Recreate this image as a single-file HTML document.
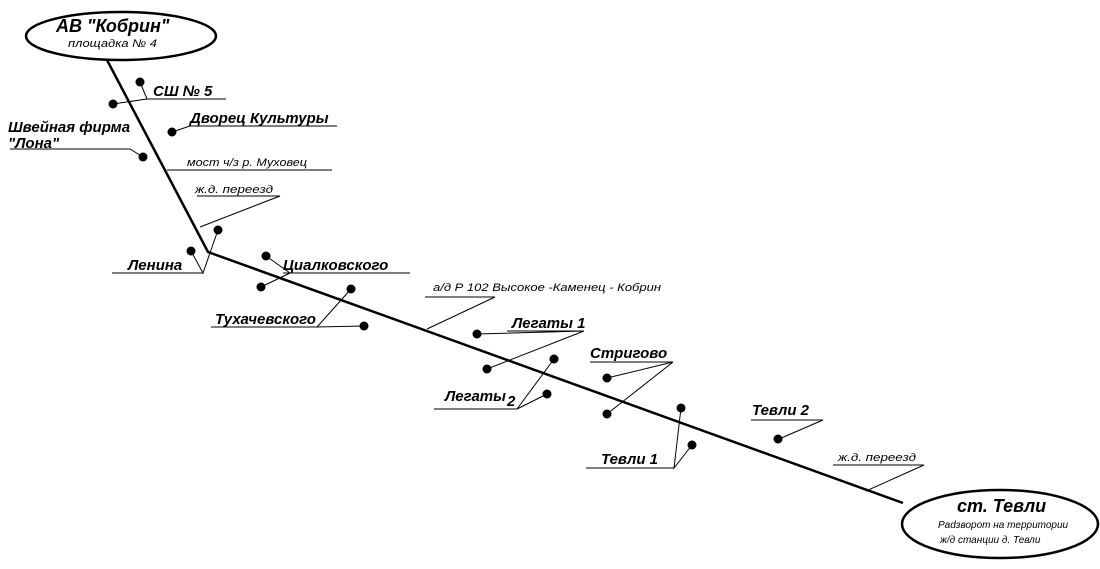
<!DOCTYPE html>
<html><head><meta charset="utf-8"><style>
html,body{margin:0;padding:0;background:#fff;}
svg{display:block;font-family:"Liberation Sans","DejaVu Sans",sans-serif;font-style:italic;}
.b{font-weight:bold;font-size:15px;}
.s{font-size:11px;}
</style></head><body>
<svg width="1100" height="569" viewBox="0 0 1100 569" xmlns="http://www.w3.org/2000/svg">
<g fill="none" stroke="#000">
<ellipse cx="121" cy="36" rx="95" ry="24" stroke-width="2.5"/>
<ellipse cx="1000" cy="524" rx="98" ry="34" stroke-width="2.5"/>
<polyline points="107,60 208,252 903,503" stroke-width="2.5"/>
<g stroke-width="1">
<polyline points="140,82 147,99 226,99"/><line x1="113" y1="104" x2="147" y2="99"/>
<polyline points="172,132 190,126 337,126"/>
<polyline points="10,149 130,149 143,157"/>
<line x1="167" y1="170" x2="332" y2="170"/>
<polyline points="197,196 280,196 200,227"/>
<polyline points="191,251 203,273 218,230"/><line x1="112" y1="273" x2="203" y2="273"/>
<polyline points="266,256 290,273 261,287"/><line x1="283" y1="273" x2="410" y2="273"/>
<polyline points="351,289 317,327 364,326"/><line x1="211" y1="327" x2="317" y2="327"/>
<polyline points="425,297 495,297 427,329"/>
<polyline points="477,334 584,331 487,369"/><line x1="507" y1="331" x2="584" y2="331"/>
<polyline points="554,359 517,409 547,394"/><line x1="434" y1="409" x2="517" y2="409"/>
<polyline points="607,378 673,362 607,414"/><line x1="590" y1="362" x2="673" y2="362"/>
<polyline points="681,408 674,468 692,445"/><line x1="586" y1="468" x2="674" y2="468"/>
<polyline points="751,420 823,420 779,439"/>
<polyline points="833,465 924,465 866,491"/>
</g></g>
<g fill="#000">
<circle cx="140" cy="82" r="4.5"/><circle cx="113" cy="104" r="4.5"/><circle cx="172" cy="132" r="4.5"/>
<circle cx="143" cy="157" r="4.5"/><circle cx="218" cy="230" r="4.5"/><circle cx="191" cy="251" r="4.5"/>
<circle cx="266" cy="256" r="4.5"/><circle cx="261" cy="287" r="4.5"/><circle cx="351" cy="289" r="4.5"/>
<circle cx="364" cy="326" r="4.5"/><circle cx="477" cy="334" r="4.5"/><circle cx="487" cy="369" r="4.5"/>
<circle cx="554" cy="359" r="4.5"/><circle cx="547" cy="394" r="4.5"/><circle cx="607" cy="378" r="4.5"/>
<circle cx="607" cy="414" r="4.5"/><circle cx="681" cy="408" r="4.5"/><circle cx="692" cy="445" r="4.5"/>
<circle cx="778" cy="439" r="4.5"/>
<text x="56" y="32" font-size="18" font-weight="bold">АВ "Кобрин"</text>
<text x="68" y="47" class="s" textLength="89" lengthAdjust="spacingAndGlyphs">площадка № 4</text>
<text x="153" y="96" class="b">СШ № 5</text>
<text x="190" y="123" class="b">Дворец Культуры</text>
<text x="8" y="132" class="b">Швейная фирма</text>
<text x="8" y="148" class="b">"Лона"</text>
<text x="187" y="166" class="s" textLength="120" lengthAdjust="spacingAndGlyphs">мост ч/з р. Муховец</text>
<text x="195" y="193" class="s" textLength="78" lengthAdjust="spacingAndGlyphs">ж.д. переезд</text>
<text x="128" y="270" class="b">Ленина</text>
<text x="283" y="270" class="b">Циалковского</text>
<text x="215" y="324" class="b">Тухачевского</text>
<text x="433" y="291" class="s" textLength="228" lengthAdjust="spacingAndGlyphs">а/д Р 102 Высокое -Каменец - Кобрин</text>
<text x="512" y="328" class="b">Легаты 1</text>
<text x="445" y="401" class="b">Легаты</text><text x="507" y="406" class="b">2</text>
<text x="590" y="358" class="b">Стригово</text>
<text x="601" y="464" class="b">Тевли 1</text>
<text x="752" y="415" class="b">Тевли 2</text>
<text x="838" y="461" class="s" textLength="78" lengthAdjust="spacingAndGlyphs">ж.д. переезд</text>
<text x="957" y="512" font-size="18" font-weight="bold">ст. Тевли</text>
<text x="938" y="528" font-size="10">Раdзворот на территории</text>
<text x="940" y="543" font-size="10">ж/д станции д. Тевли</text>
</g>
</svg>
</body></html>
